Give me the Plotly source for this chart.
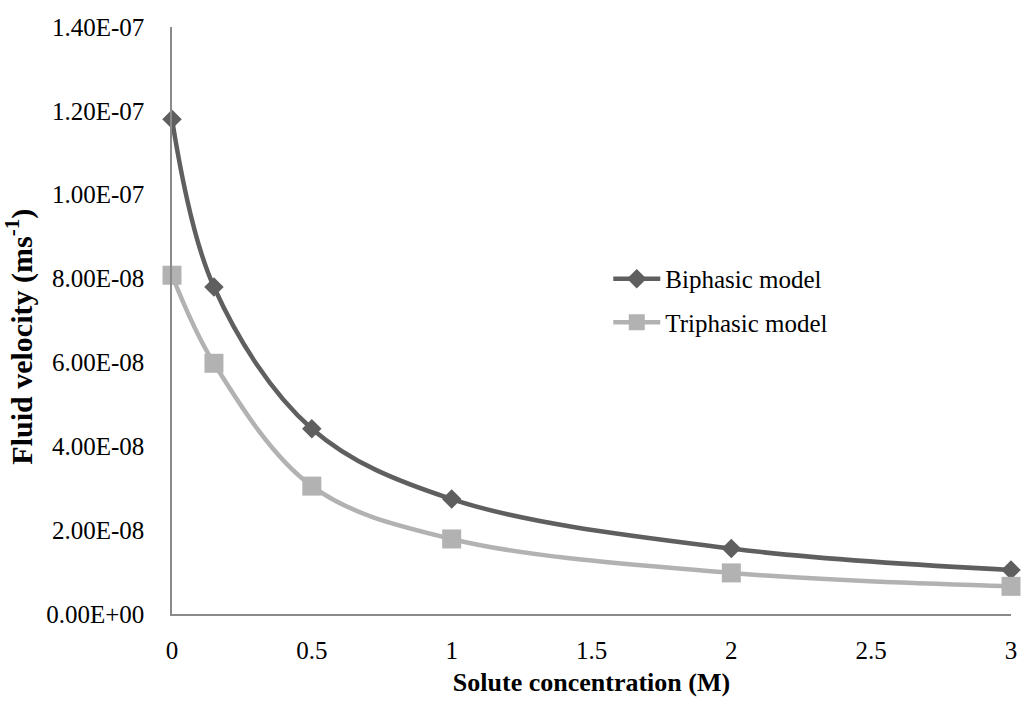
import plotly.graph_objects as go

# Solute concentration (M)
concentration = [0, 0.15, 0.5, 1, 2, 3]
# Fluid velocity (m/s) for each model
biphasic = [1.18e-7, 7.80e-8, 4.42e-8, 2.74e-8, 1.56e-8, 1.05e-8]
triphasic = [8.08e-8, 5.98e-8, 3.05e-8, 1.79e-8, 0.98e-8, 0.66e-8]

y_tick_vals = [0, 2e-8, 4e-8, 6e-8, 8e-8, 1.0e-7, 1.2e-7, 1.4e-7]
y_tick_text = ["0.00E+00", "2.00E-08", "4.00E-08", "6.00E-08",
               "8.00E-08", "1.00E-07", "1.20E-07", "1.40E-07"]
x_tick_vals = [0, 0.5, 1, 1.5, 2, 2.5, 3]
x_tick_text = ["0", "0.5", "1", "1.5", "2", "2.5", "3"]

FONT = "Liberation Serif, Times New Roman, serif"
DARK = "#5f5f5f"
LIGHT = "#b2b2b2"
AXIS = "#8a8a8a"

fig = go.Figure()
fig.add_trace(go.Scatter(
    x=concentration, y=biphasic, name="Biphasic model",
    mode="lines+markers", legendgroup="a",
    line=dict(color=DARK, width=4.5, shape="spline", smoothing=1.0),
    marker=dict(symbol="diamond", size=15, color=DARK),
    cliponaxis=False,
))
fig.add_trace(go.Scatter(
    x=concentration, y=triphasic, name="Triphasic model",
    mode="lines+markers", legendgroup="b",
    line=dict(color=LIGHT, width=4.5, shape="spline", smoothing=1.0),
    marker=dict(symbol="square", size=19, color=LIGHT),
    cliponaxis=False,
))

fig.update_layout(
    width=1027, height=702,
    margin=dict(l=172, r=10, t=27, b=85),
    paper_bgcolor="white", plot_bgcolor="white",
    font=dict(family=FONT, size=25, color="black"),
    showlegend=True,
    legend=dict(
        x=0.52, y=0.61, xanchor="left", yanchor="top",
        bgcolor="rgba(0,0,0,0)", font=dict(family=FONT, size=25),
        tracegroupgap=8, itemwidth=47,
    ),
    xaxis=dict(
        range=[0, 3], tickvals=x_tick_vals, ticktext=x_tick_text,
        showgrid=False, zeroline=False, showline=True,
        linecolor=AXIS, linewidth=1.5, ticks="",
        ticklabelstandoff=13,
        title=dict(text="<b>Solute concentration (M)</b>",
                   font=dict(family=FONT, size=26), standoff=10),
    ),
    yaxis=dict(
        range=[0, 1.4e-7], tickvals=y_tick_vals, ticktext=y_tick_text,
        showgrid=False, zeroline=False, showline=True,
        linecolor=AXIS, linewidth=1.5, ticks="",
        ticklabelstandoff=21,
    ),
    annotations=[dict(
        text="<b>Fluid velocity (ms<sup>-1</sup>)</b>",
        xref="paper", yref="paper", x=-0.182, y=0.473,
        xanchor="center", yanchor="middle", textangle=-90,
        showarrow=False, font=dict(family=FONT, size=30),
    )],
)

fig.write_html("out.html")
